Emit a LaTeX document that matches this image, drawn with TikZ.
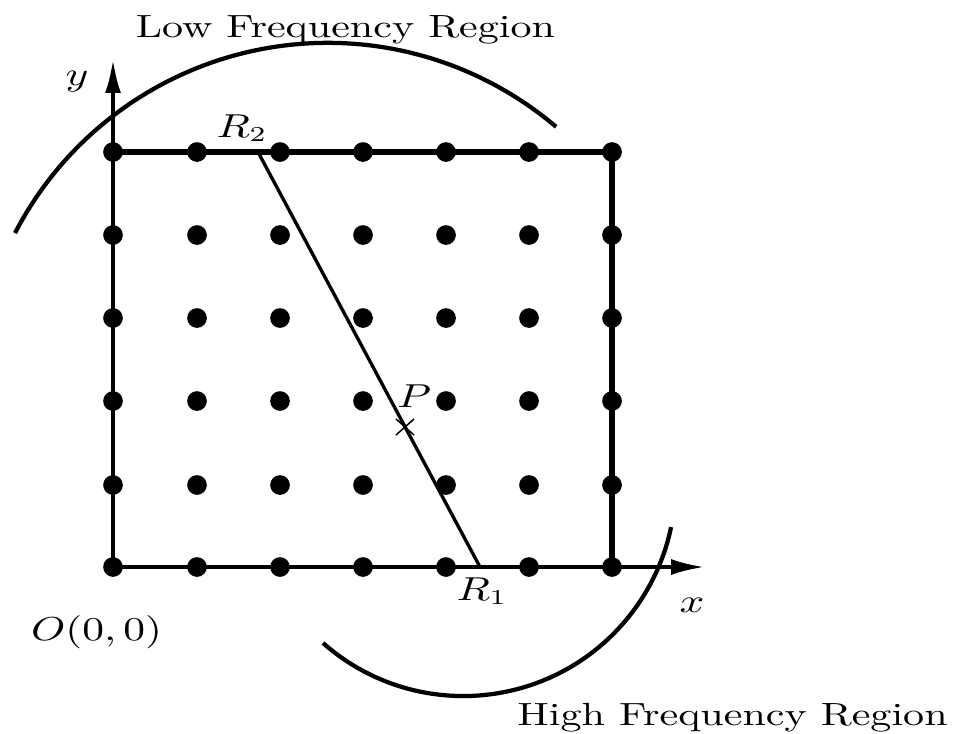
\documentclass[tikz,border=0pt]{standalone}
\usetikzlibrary{arrows.meta}
\newcommand{\wide}[1]{\scalebox{1.31}[1]{#1}}
\begin{document}
\begin{tikzpicture}[x=0.33pt,y=-0.33pt,
  dot/.style={circle,fill=black,inner sep=0pt,minimum size=6.5pt},
  frameline/.style={line width=1.7pt},
  axisline/.style={line width=1.5pt,-{Latex[length=11.5pt,width=5.2pt]}},
  regionarc/.style={line width=1.4pt},
  chord/.style={line width=1.1pt},
  lbl/.style={inner sep=0pt,anchor=base,font=\fontsize{10.6}{12}\selectfont}]
\useasboundingbox (0,0) rectangle (955,733);
% axes
\coordinate (O) at (113,567);
\coordinate (xend) at (706,567);
\coordinate (yend) at (113,58);
\draw[axisline] (O) -- (xend);
\draw[axisline] (O) -- (yend);
% grid dots
\foreach \i/\x in {0/113,1/197,2/280,3/363,4/446,5/529,6/612}
  \foreach \j/\y in {0/567,1/485,2/401,3/318,4/235,5/152}
    \node[dot] (d\i\j) at (\x,\y) {};
% frame
\draw[frameline] (d05.center) -- (d65.center) -- (d60.center);
% chord R2-R1
\coordinate (r2) at (258,152);
\coordinate (r1) at (480,567);
\draw[chord] (r2) -- (r1);
% cross at P
\coordinate (p) at (405,427);
\draw[line width=0.5pt] (p) ++(-9,-8) -- ++(18,16);
\draw[line width=0.5pt] (p) ++(-9,8) -- ++(18,-16);
% region arcs
\coordinate (lowstart) at (15,233);
\draw[regionarc] (lowstart) arc[start angle=-152.6,end angle=-49.6,radius=352.3];
\coordinate (highstart) at (323,643);
\draw[regionarc] (highstart) arc[start angle=131.4,end angle=11.75,radius=212.2];
% labels
\node[lbl] (low) at (345.5,37) {\wide{Low Frequency Region}};
\node[lbl] (high) at (732.5,725) {\wide{High Frequency Region}};
\node[lbl] (ylab) at (77,85) {\wide{$y$}};
\node[lbl] (xlab) at (692,612) {\wide{$x$}};
\node[lbl] (r2l) at (242,137) {\wide{$R_2$}};
\node[lbl] (r1l) at (482,600) {\wide{$R_1$}};
\node[lbl] (pl) at (414,407) {\wide{$P$}};
\node[lbl] (ol) at (96.5,640) {\wide{$O(0,0)$}};
\end{tikzpicture}
\end{document}
